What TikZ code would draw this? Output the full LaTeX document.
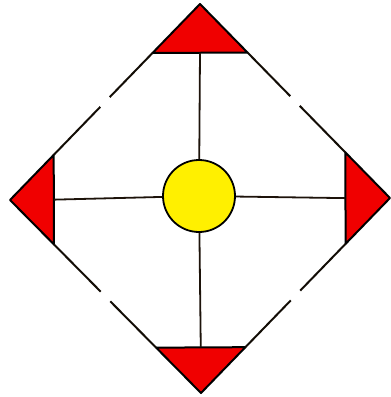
\documentclass[tikz,border=0pt]{standalone}
\usetikzlibrary{calc}
\definecolor{tri}{RGB}{240,0,0}
\definecolor{hub}{RGB}{255,240,0}
\begin{document}
\begin{tikzpicture}[x=1pt,y=-1pt,
  edge/.style={line width=2pt,draw=black!90!brown},
  spoke/.style={line width=1.8pt,draw=black!85!brown},
  corner/.style={fill=tri,draw=black,line width=2pt,line join=round},
  hubnode/.style={circle,fill=hub,draw=black,line width=1.8pt,minimum size=72pt,inner sep=0pt}]
\useasboundingbox (0,0) rectangle (391,397);
\coordinate (T) at (200,4);
\coordinate (R) at (390,198);
\coordinate (B) at (201,393);
\coordinate (L) at (10,200);
% triangle base corners
\coordinate (TL) at ($(T)!0.25!(L)$);
\coordinate (TR) at ($(T)!0.25!(R)$);
\coordinate (RT) at ($(R)!0.235!(T)$);
\coordinate (RB) at ($(R)!0.235!(B)$);
\coordinate (BR) at ($(B)!0.235!(R)$);
\coordinate (BL) at ($(B)!0.235!(L)$);
\coordinate (LB) at ($(L)!0.23!(B)$);
\coordinate (LT) at ($(L)!0.23!(T)$);
\coordinate (Tm) at ($(TL)!0.5!(TR)$);
\coordinate (Rm) at ($(RT)!0.5!(RB)$);
\coordinate (Bm) at ($(BL)!0.5!(BR)$);
\coordinate (Lm) at ($(LT)!0.5!(LB)$);
% triangles
\filldraw[corner] (T) -- (TL) -- (TR) -- cycle;
\filldraw[corner] (R) -- (RT) -- (RB) -- cycle;
\filldraw[corner] (B) -- (BL) -- (BR) -- cycle;
\filldraw[corner] (L) -- (LT) -- (LB) -- cycle;
% diamond edges with gaps
\draw[edge] (TL) -- ($(T)!0.475!(L)$);
\draw[edge] ($(T)!0.525!(L)$) -- (LT);
\draw[edge] (TR) -- ($(T)!0.475!(R)$);
\draw[edge] ($(T)!0.525!(R)$) -- (RT);
\draw[edge] (RB) -- ($(R)!0.475!(B)$);
\draw[edge] ($(R)!0.525!(B)$) -- (BR);
\draw[edge] (BL) -- ($(B)!0.475!(L)$);
\draw[edge] ($(B)!0.525!(L)$) -- (LB);
% hub
\node[hubnode] (c) at (199,196) {};
\draw[spoke] (c) -- (Tm);
\draw[spoke] (c) -- (Rm);
\draw[spoke] (c) -- (Bm);
\draw[spoke] (c) -- (Lm);
\end{tikzpicture}
\end{document}
